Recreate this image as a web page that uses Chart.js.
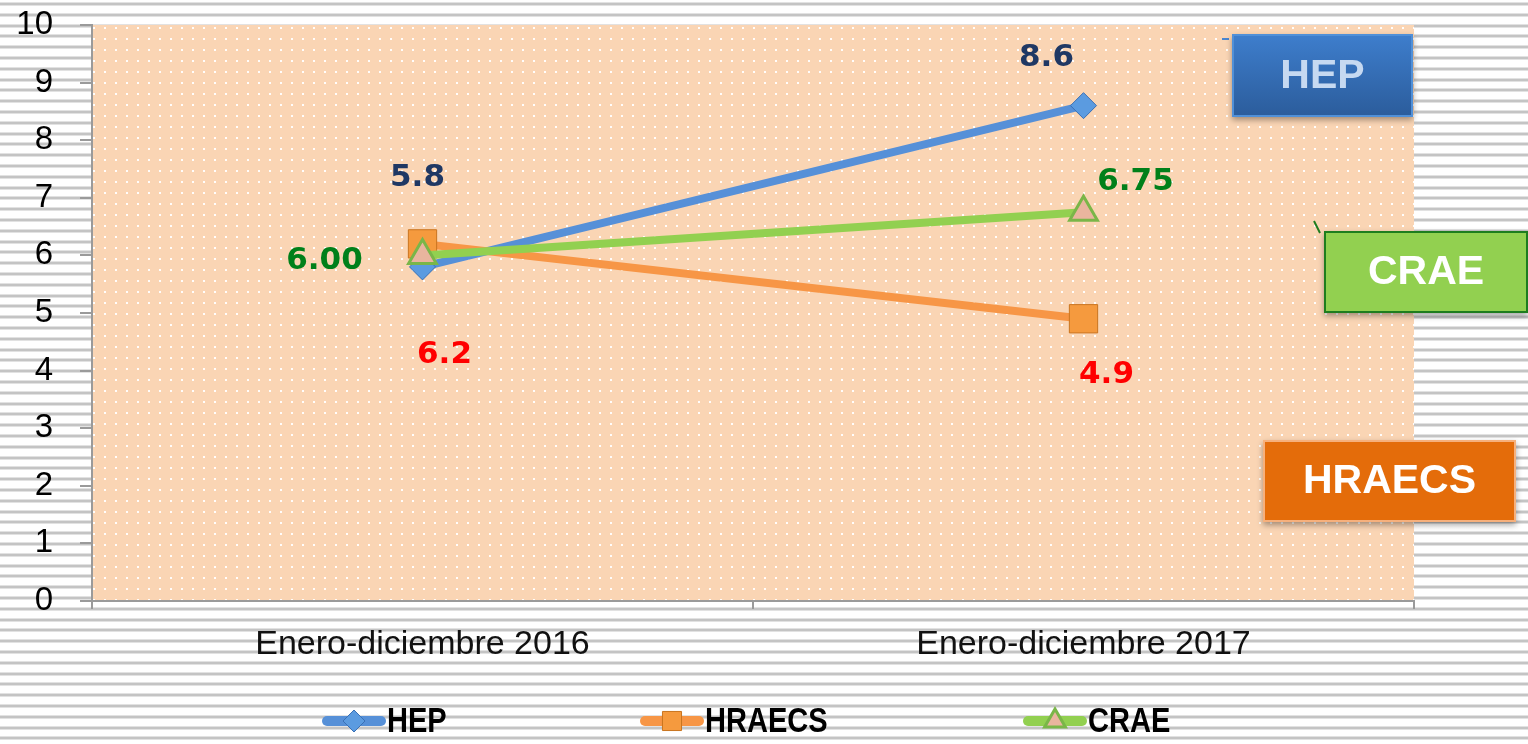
<!DOCTYPE html>
<html lang="es">
<head>
<meta charset="UTF-8">
<title>HEP, HRAECS y CRAE</title>
<script src="https://cdn.jsdelivr.net/npm/chart.js@4.4.1/dist/chart.umd.min.js"></script>
<style>
    html, body { margin: 0; padding: 0; background: #fff; }
    #grafico { display: block; }
</style>
</head>
<body>
<canvas id="grafico" width="1528" height="744"></canvas>
<script>
// Datos del gráfico
const categorias = ['Enero-diciembre 2016', 'Enero-diciembre 2017'];
const series = ['HEP', 'HRAECS', 'CRAE'];
const valoresHEP = [5.8, 8.6];
const valoresHRAECS = [6.2, 4.9];
const valoresCRAE = [6.00, 6.75];
const decimales = [1, 1, 2];
const ejeYMin = 0;
const ejeYMax = 10;
const ejeYPaso = 1;

// Estilos de cada serie
const estilos = [
    { linea: '#5690d8', relleno: '#5b9be0', borde: '#3a70b5', forma: 'rectRot', radio: 13, bordeAncho: 1,
      colorEtiqueta: '#1f3864', desplazamientos: [[-5, -89], [-37, -48]], orden: 2, radioLeyenda: 11 },
    { linea: '#f79646', relleno: '#f59a3e', borde: '#c9741f', forma: 'rect', radio: 20, bordeAncho: 1,
      colorEtiqueta: '#ff0000', desplazamientos: [[22, 111], [23, 56]], orden: 1, radioLeyenda: 13.5 },
    { linea: '#92d050', relleno: '#e9b59e', borde: '#7ab648', forma: 'triangle', radio: 16, bordeAncho: 3,
      colorEtiqueta: '#00801a', desplazamientos: [[-98, 6], [52, -30]], orden: 0, radioLeyenda: 12 }
];

// Recuadros de texto a la derecha (relativos al área del gráfico)
const recuadros = [
    { texto: 'HEP', dx: -182, dy: 9, w: 181, h: 83, arriba: '#3e7ecd', abajo: '#2b5c9b', borde: '#5090d8', colorTexto: '#c6d9f1',
      guia: [[-10, 5], [-3, 5]], colorGuia: '#4a86d0' },
    { texto: 'CRAE', dx: -90, dy: 206, w: 204, h: 82, arriba: '#92d050', abajo: '#92d050', borde: '#1e7d1e', colorTexto: '#ffffff',
      guia: [[-10, -10], [-4, 2]], colorGuia: '#1e7d1e' },
    { texto: 'HRAECS', dx: -151, dy: 415, w: 253, h: 82, arriba: '#e46c0a', abajo: '#e46c0a', borde: '#f6b07c', colorTexto: '#ffffff',
      guia: null, colorGuia: null }
];

// Leyenda propia
const leyendaCentros = [354, 672, 1055];
const leyendaY = 722;

const valores = [valoresHEP, valoresHRAECS, valoresCRAE];

const datasets = series.map((nombre, i) => ({
    label: nombre,
    data: valores[i],
    borderColor: estilos[i].linea,
    backgroundColor: estilos[i].relleno,
    borderWidth: 8,
    tension: 0,
    pointStyle: estilos[i].forma,
    pointRadius: estilos[i].radio,
    pointBackgroundColor: estilos[i].relleno,
    pointBorderColor: estilos[i].borde,
    pointBorderWidth: estilos[i].bordeAncho,
    order: estilos[i].orden
}));

// Patrón de puntos para el área del gráfico
function crearPatron(ctx) {
    const c = document.createElement('canvas');
    c.width = 11;
    c.height = 11;
    const p = c.getContext('2d');
    p.fillStyle = '#fad5b4';
    p.fillRect(0, 0, 11, 11);
    p.fillStyle = 'rgba(255,255,255,0.95)';
    p.fillRect(5, 5, 2, 2);
    return ctx.createPattern(c, 'repeat');
}

// Comprobar si existe la fuente estrecha
function hayFuente(nombre) {
    const c = document.createElement('canvas').getContext('2d');
    c.font = 'bold 40px monospace';
    const base = c.measureText('HRAECS').width;
    c.font = 'bold 40px "' + nombre + '", monospace';
    return c.measureText('HRAECS').width !== base;
}
const estrecha = hayFuente('Liberation Sans Narrow');

const fondoPlugin = {
    id: 'fondo',
    beforeDraw(chart) {
        const { ctx, width, height, chartArea } = chart;
        ctx.save();
        ctx.fillStyle = '#ffffff';
        ctx.fillRect(0, 0, width, height);
        for (let y = 3; y < height; y += 10.8) {
            const yy = Math.round(y);
            ctx.fillStyle = '#e2e2e2';
            ctx.fillRect(0, yy - 1, width, 4);
            ctx.fillStyle = '#c4c4c4';
            ctx.fillRect(0, yy, width, 2);
        }
        ctx.fillStyle = crearPatron(ctx);
        ctx.fillRect(chartArea.left, chartArea.top, chartArea.right - chartArea.left, chartArea.bottom - chartArea.top);
        ctx.restore();
    }
};

const etiquetasPlugin = {
    id: 'etiquetas',
    afterDatasetsDraw(chart) {
        const ctx = chart.ctx;
        ctx.save();
        ctx.font = 'bold 31px "DejaVu Sans", Verdana, sans-serif';
        ctx.textAlign = 'center';
        ctx.textBaseline = 'middle';
        chart.data.datasets.forEach((ds, i) => {
            const meta = chart.getDatasetMeta(i);
            meta.data.forEach((punto, j) => {
                const [dx, dy] = estilos[i].desplazamientos[j];
                ctx.fillStyle = estilos[i].colorEtiqueta;
                ctx.fillText(ds.data[j].toFixed(decimales[i]), punto.x + dx, punto.y + dy);
            });
        });

        // Recuadros con el nombre de cada serie
        const area = chart.chartArea;
        recuadros.forEach(r => {
            const x = area.right + r.dx;
            const y = area.top + r.dy;
            if (r.guia) {
                ctx.strokeStyle = r.colorGuia;
                ctx.lineWidth = 2;
                ctx.beginPath();
                ctx.moveTo(x + r.guia[0][0], y + r.guia[0][1]);
                ctx.lineTo(x + r.guia[1][0], y + r.guia[1][1]);
                ctx.stroke();
            }
            const grad = ctx.createLinearGradient(0, y, 0, y + r.h);
            grad.addColorStop(0, r.arriba);
            grad.addColorStop(1, r.abajo);
            ctx.save();
            ctx.shadowColor = 'rgba(0,0,0,0.35)';
            ctx.shadowBlur = 6;
            ctx.shadowOffsetY = 3;
            ctx.fillStyle = grad;
            ctx.fillRect(x, y, r.w, r.h);
            ctx.restore();
            ctx.strokeStyle = r.borde;
            ctx.lineWidth = 2;
            ctx.strokeRect(x + 1, y + 1, r.w - 2, r.h - 2);
            ctx.fillStyle = r.colorTexto;
            ctx.font = 'bold 41px "Liberation Sans", Arial, sans-serif';
            ctx.fillText(r.texto, x + r.w / 2, y + r.h / 2 + 1);
        });
        ctx.restore();
    },
    afterDraw(chart) {
        // Leyenda inferior
        const ctx = chart.ctx;
        chart.data.datasets.forEach((ds, i) => {
            const cx = leyendaCentros[i];
            ctx.save();
            ctx.strokeStyle = ds.borderColor;
            ctx.lineWidth = 10;
            ctx.lineCap = 'round';
            ctx.beginPath();
            ctx.moveTo(cx - 27, leyendaY - 1);
            ctx.lineTo(cx + 27, leyendaY - 1);
            ctx.stroke();
            ctx.fillStyle = ds.pointBackgroundColor;
            ctx.strokeStyle = ds.pointBorderColor;
            ctx.lineWidth = ds.pointBorderWidth;
            ctx.lineCap = 'butt';
            Chart.helpers.drawPoint(ctx, {
                pointStyle: ds.pointStyle,
                radius: estilos[i].radioLeyenda,
                rotation: 0,
                borderWidth: ds.pointBorderWidth
            }, cx, leyendaY - 1);
            ctx.fillStyle = '#000';
            ctx.textAlign = 'left';
            ctx.textBaseline = 'middle';
            ctx.translate(cx + 33, leyendaY);
            if (estrecha) {
                ctx.font = 'bold 35px "Liberation Sans Narrow", sans-serif';
            } else {
                ctx.font = 'bold 35px "Liberation Sans", Arial, sans-serif';
                ctx.scale(0.83, 1);
            }
            ctx.fillText(ds.label, 0, 0);
            ctx.restore();
        });
    }
};

const ctx = document.getElementById('grafico').getContext('2d');
new Chart(ctx, {
    type: 'line',
    data: {
        labels: categorias,
        datasets: datasets
    },
    options: {
        responsive: false,
        animation: false,
        devicePixelRatio: 1,
        layout: { autoPadding: false, padding: { top: 25, right: 114, left: 0, bottom: 0 } },
        plugins: {
            legend: { display: false },
            tooltip: { enabled: false }
        },
        scales: {
            x: {
                offset: true,
                grid: { drawOnChartArea: false, drawTicks: true, tickLength: 8, color: '#9a9a9a', lineWidth: 2, offset: true },
                border: { color: '#9a9a9a', width: 2 },
                ticks: {
                    color: '#111',
                    font: { family: '"Liberation Sans", Arial, sans-serif', size: 34 },
                    padding: 15,
                    maxRotation: 0
                },
                afterFit: scale => { scale.height = 143; }
            },
            y: {
                min: ejeYMin,
                max: ejeYMax,
                ticks: {
                    stepSize: ejeYPaso,
                    color: '#000',
                    font: { family: '"Liberation Sans", Arial, sans-serif', size: 33 },
                    padding: 27
                },
                grid: { drawOnChartArea: false, drawTicks: true, tickLength: 12, color: '#9a9a9a', lineWidth: 2 },
                border: { color: '#9a9a9a', width: 2 },
                afterFit: scale => {
                    scale.width = 92;
                    scale.paddingTop = 0;
                    scale.paddingBottom = 0;
                }
            }
        }
    },
    plugins: [fondoPlugin, etiquetasPlugin]
});
</script>
</body>
</html>
